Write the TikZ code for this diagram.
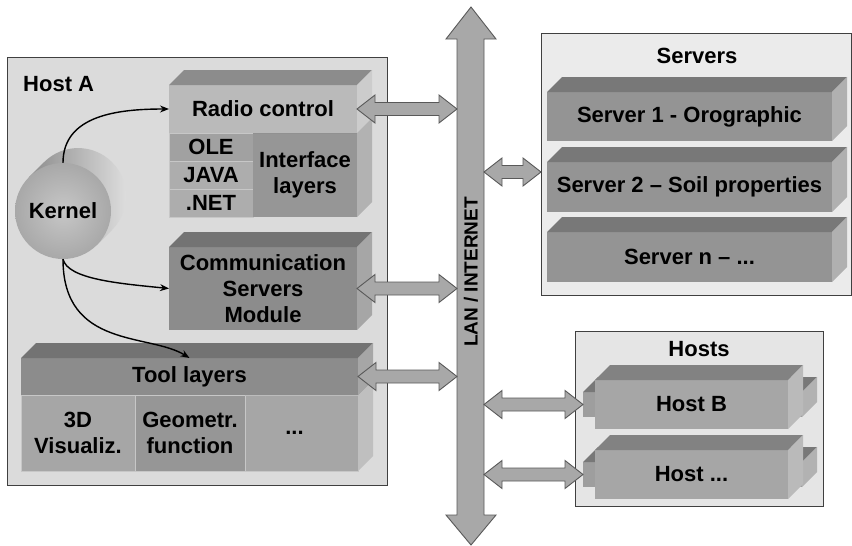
\documentclass[tikz,border=0pt]{standalone}
\usepackage{fontspec}
\setmainfont{Liberation Sans}
\usepackage{tikz}
\usetikzlibrary{calc}
\usetikzlibrary{arrows.meta}

\definecolor{paneA}{gray}{0.86}
\definecolor{paneS}{gray}{0.92}
\definecolor{paneH}{gray}{0.90}
\definecolor{radiofront}{gray}{0.73}
\definecolor{radiotop}{gray}{0.55}
\definecolor{radioside}{gray}{0.80}
\definecolor{olefront}{gray}{0.63}
\definecolor{javafront}{gray}{0.68}
\definecolor{ifacefront}{gray}{0.59}
\definecolor{ifaceside}{gray}{0.70}
\definecolor{commfront}{gray}{0.55}
\definecolor{commtop}{gray}{0.45}
\definecolor{commside}{gray}{0.65}
\definecolor{visfront}{gray}{0.65}
\definecolor{geofront}{gray}{0.59}
\definecolor{moreside}{gray}{0.75}
\definecolor{srvfront}{gray}{0.58}
\definecolor{srvtop}{gray}{0.47}
\definecolor{srvside}{gray}{0.69}
\definecolor{hostfront}{gray}{0.65}
\definecolor{hosttop}{gray}{0.51}
\definecolor{hostside}{gray}{0.73}
\definecolor{earfront}{gray}{0.62}
\definecolor{eartop}{gray}{0.47}
\definecolor{earside}{gray}{0.70}
\definecolor{arrowfill}{gray}{0.66}

% top and side faces of a block whose front is a node
\newcommand{\blockfaces}[3]{%
  \fill[#2] (#1.north west) -- ++(15,-15) -- ($(#1.north east)+(15,-15)$) -- (#1.north east) -- cycle;
  \fill[#3] (#1.north east) -- ++(15,-15) -- ($(#1.south east)+(15,-15)$) -- (#1.south east) -- cycle;}

% horizontal double block arrow, left end first
\newcommand{\fatarrow}[2]{%
  \draw[fat] (#1) -- ($(#1)+(18,-14)$) -- ($(#1)+(18,-6.5)$) -- ($(#2)+(-18,-6.5)$)
    -- ($(#2)+(-18,-14)$) -- (#2) -- ($(#2)+(-18,14)$) -- ($(#2)+(-18,6.5)$)
    -- ($(#1)+(18,6.5)$) -- ($(#1)+(18,14)$) -- cycle;}

\begin{document}
\begin{tikzpicture}[x=1pt,y=-1pt,
  face/.style={rectangle,inner sep=0pt,outer sep=0pt,align=center,font=\bfseries\fontsize{22}{26}\selectfont},
  cell/.style={face,draw=black!22,line width=0.6pt},
  panel/.style={rectangle,draw=black!75,line width=0.9pt,inner sep=0pt,outer sep=0pt},
  title/.style={font=\bfseries\fontsize{22}{24}\selectfont,inner sep=0pt},
  fat/.style={fill=arrowfill,draw=black!65,line width=0.9pt},
  kline/.style={line width=1.4pt,-{Stealth[length=9pt,width=7pt]}}]
\useasboundingbox (0,0) rectangle (852,546);

% Host A
\node[panel,fill=paneA,minimum width=380,minimum height=428] (hosta) at (197,271) {};
\node[title,anchor=west] (hostalbl) at (23,84) {Host A};

% Kernel
\shade[left color=black!45,right color=black!12] (112,230) arc[start angle=-45,end angle=135,radius=48pt]
  -- (29,177) -- (97,245) -- cycle;
\node[circle,minimum size=96,inner sep=0pt,shade,inner color=black!22,outer color=black!34,
  font=\bfseries\fontsize{22}{24}\selectfont] (kernel) at (63,211) {Kernel};

% Radio control and interface layers
\node[cell,fill=olefront,minimum width=84,minimum height=28] (ole) at (211,147) {OLE};
\node[cell,fill=javafront,minimum width=84,minimum height=28] (java) at (211,175) {JAVA};
\node[cell,fill=javafront,minimum width=84,minimum height=28] (net) at (211,203) {.NET};
\node[face,fill=ifacefront,minimum width=104,minimum height=84] (iface) at (305,175) {Interface\\layers};
\blockfaces{iface}{commtop}{ifaceside}
\node[face,fill=radiofront,minimum width=188,minimum height=48] (radio) at (263,109) {Radio control};
\blockfaces{radio}{radiotop}{radioside}

% Communication
\node[face,fill=commfront,minimum width=188,minimum height=83] (comm) at (263,288.5) {Communication\\Servers\\Module};
\blockfaces{comm}{commtop}{commside}

% Tool layers
\node[cell,fill=visfront,minimum width=114,minimum height=76] (vis) at (78,433) {3D\\Visualiz.};
\node[cell,fill=geofront,minimum width=110,minimum height=76] (geo) at (190,433) {Geometr.\\function};
\node[cell,fill=visfront,minimum width=113,minimum height=76] (more) at (301.5,433) {...\hspace{14pt}};
\blockfaces{more}{commtop}{moreside}
\node[face,fill=commfront,minimum width=337,minimum height=37] (tool) at (189.5,376.5) {Tool layers};
\blockfaces{tool}{commtop}{commside}

% kernel links
\draw[kline] (kernel.north) .. controls +(0,-48) and +(-50,0) .. (radio.west);
\draw[kline] (kernel.south) .. controls +(5,20) and +(-50,-5) .. (comm.west);
\draw[kline] (kernel.south) .. controls +(0,90) and +(-40,-25) .. (tool.north);

% Servers
\node[panel,fill=paneS,minimum width=310,minimum height=262] (srvbox) at (696,164) {};
\node[title] (srvlbl) at (697,56) {Servers};
\node[face,fill=srvfront,minimum width=285,minimum height=49] (srv1) at (689.5,116.5) {Server 1 - Orographic};
\blockfaces{srv1}{srvtop}{srvside}
\node[face,fill=srvfront,minimum width=285,minimum height=50] (srv2) at (689.5,187) {Server 2 -- Soil properties};
\blockfaces{srv2}{srvtop}{srvside}
\node[face,fill=srvfront,minimum width=285,minimum height=50] (srvn) at (689.5,257) {Server n -- ...};
\blockfaces{srvn}{srvtop}{srvside}

% Hosts
\node[panel,fill=paneH,minimum width=248,minimum height=175] (hostbox) at (699,418.5) {};
\node[title] (hostslbl) at (699,349) {Hosts};
\node[fill=earfront,minimum width=219,minimum height=25,inner sep=0pt,outer sep=0pt] (hbear) at (692.5,404.5) {};
\blockfaces{hbear}{eartop}{earside}
\node[face,fill=hostfront,minimum width=193,minimum height=49] (hostb) at (691.5,404.5) {Host B};
\blockfaces{hostb}{hosttop}{hostside}
\node[fill=earfront,minimum width=219,minimum height=25,inner sep=0pt,outer sep=0pt] (hnear) at (692.5,474.5) {};
\blockfaces{hnear}{eartop}{earside}
\node[face,fill=hostfront,minimum width=193,minimum height=49] (hostn) at (691.5,474.5) {Host ...};
\blockfaces{hostn}{hosttop}{hostside}

% LAN / INTERNET bus
\draw[fat] (471,7) -- (496,39) -- (484,39) -- (484,515) -- (496,515) -- (471,545)
  -- (446,515) -- (457,515) -- (457,39) -- (446,39) -- cycle;
\node[font=\bfseries\fontsize{19}{20}\selectfont,rotate=90,inner sep=0pt] (lan) at (471,272) {LAN / INTERNET};
\coordinate (lanL) at (457,272);
\coordinate (lanR) at (484,272);

% block links
\coordinate (radiolan) at (radio.east -| lanL);
\fatarrow{radio.east}{radiolan}
\coordinate (commlan) at (comm.east -| lanL);
\fatarrow{comm.east}{commlan}
\coordinate (toollan) at (tool.east -| lanL);
\fatarrow{tool.east}{toollan}
\coordinate (lansrv) at (484,172);
\coordinate (srvin) at (lansrv -| srvbox.west);
\fatarrow{lansrv}{srvin}
\coordinate (lanhb) at (lanR |- hbear.west);
\fatarrow{lanhb}{hbear.west}
\coordinate (lanhn) at (lanR |- hnear.west);
\fatarrow{lanhn}{hnear.west}
\end{tikzpicture}
\end{document}
